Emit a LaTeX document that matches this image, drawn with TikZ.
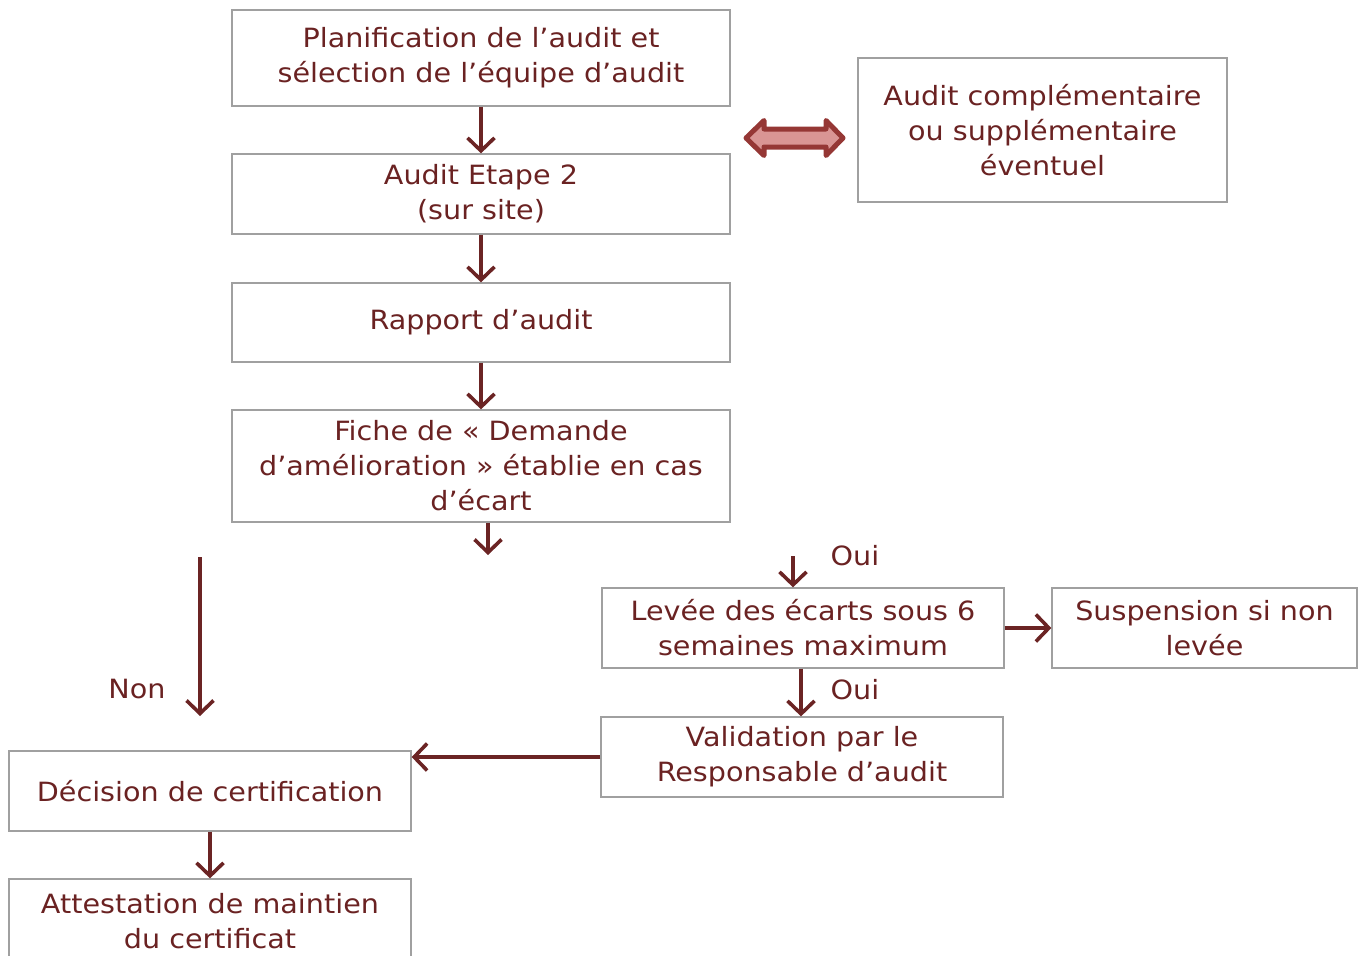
\documentclass[tikz,border=0pt]{standalone}
\usepackage{fontspec}
\setmainfont[FakeStretch=1.08]{DejaVu Sans}
\usetikzlibrary{arrows.meta}
\definecolor{txt}{HTML}{6A2222}
\definecolor{arr}{HTML}{6B2424}
\definecolor{boxline}{HTML}{A0A0A0}
\definecolor{dafill}{HTML}{D99594}
\definecolor{daline}{HTML}{953735}
\tikzset{
  box/.style={draw=boxline, line width=1.3pt, text=txt, align=center, inner sep=0pt,
    font=\fontsize{26.5}{35}\selectfont, execute at begin node={\vspace*{4pt}}},
  lbl/.style={text=txt, inner sep=0pt, font=\fontsize{26.5}{35}\selectfont},
  conn/.style={draw=arr, line width=3.6pt, -{Straight Barb[length=13pt,width=27pt]}},
}
\begin{document}
\begin{tikzpicture}[x=1pt,y=-1pt]
\useasboundingbox (0,0) rectangle (1364,955);
\begin{scope}
\clip (0,0) rectangle (1364,955);
\node[box, minimum width=498pt, minimum height=96pt] (b1) at (481,58) {Planification de l’audit et\\sélection de l’équipe d’audit};
\node[box, minimum width=498pt, minimum height=80pt] (b2) at (481,194) {Audit Etape 2\\(sur site)};
\node[box, minimum width=498pt, minimum height=79pt] (b3) at (481,322.5) {Rapport d’audit};
\node[box, minimum width=498pt, minimum height=112pt] (b4) at (481,466) {Fiche de « Demande\\d’amélioration » établie en cas\\d’écart};
\node[box, minimum width=369pt, minimum height=144pt] (b5) at (1042.5,130) {Audit complémentaire\\ou supplémentaire\\éventuel};
\node[box, minimum width=402pt, minimum height=80pt] (b6) at (803,628) {Levée des écarts sous 6\\semaines maximum};
\node[box, minimum width=305pt, minimum height=80pt] (b7) at (1204.5,628) {Suspension si non\\levée};
\node[box, minimum width=402pt, minimum height=80pt] (b8) at (802,757) {Validation par le\\Responsable d’audit};
\node[box, minimum width=402pt, minimum height=80pt] (b9) at (210,791) {Décision de certification};
\node[box, minimum width=402pt, minimum height=84pt] (b10) at (210,921) {Attestation de maintien\\du certificat};

\node[lbl] (oui1) at (855,556) {Oui};
\node[lbl] (oui2) at (855,690) {Oui};
\node[lbl] (non) at (137,689) {Non};

\coordinate (c4) at (488,555);
\coordinate (c6) at (793,556);
\coordinate (n1) at (200,557);
\coordinate (n2) at (200,716);

\draw[conn] (b1.south) -- (b2.north);
\draw[conn] (b2.south) -- (b3.north);
\draw[conn] (b3.south) -- (b4.north);
\draw[conn] (b4.south -| c4) -- (c4);
\draw[conn] (c6) -- (b6.north -| c6);
\draw[conn] ([xshift=-2pt]b6.south) -- ([xshift=-1pt]b8.north);
\draw[conn] (b6.east) -- (b7.west);
\draw[conn] (b8.west) -- (b8.west -| b9.east);
\draw[conn] (n1) -- (n2);
\draw[conn] (b9.south) -- (b10.north);

\draw[draw=daline, fill=dafill, line width=5pt, line join=round]
  (746,138) -- (764,120.5) -- (764,129) -- (826,129) -- (826,120.5) -- (843,138)
  -- (826,155.5) -- (826,147) -- (764,147) -- (764,155.5) -- cycle;
\end{scope}
\end{tikzpicture}
\end{document}
